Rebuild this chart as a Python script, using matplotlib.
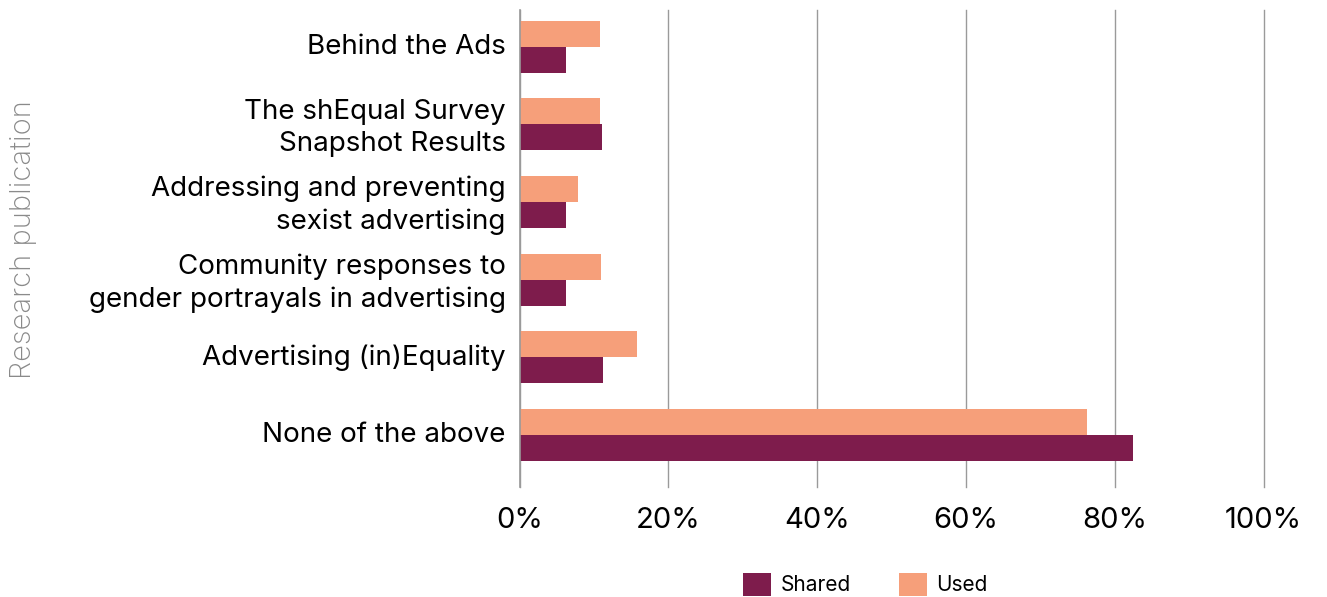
import numpy as np
import matplotlib
matplotlib.use("Agg")
import matplotlib.pyplot as plt

plt.rcParams['font.family'] = ['Inter', 'DejaVu Sans']

publications = [
    "Behind the Ads",
    "The shEqual Survey\nSnapshot Results",
    "Addressing and preventing\nsexist advertising",
    "Community responses to\ngender portrayals in advertising",
    "Advertising (in)Equality",
    "None of the above",
]
shared = [6.3, 11.1, 6.3, 6.3, 11.2, 82.4]
used = [10.8, 10.8, 7.9, 10.9, 15.8, 76.3]

shared_col = '#7E1C4C'
used_col = '#F69F7A'

fig = plt.figure(figsize=(13.27, 5.97), dpi=100)
ax = fig.add_axes([0.3915, 0.184, 0.5607, 0.799])

y = np.arange(len(publications))
h = 0.335
ax.barh(y - h / 2, used, height=h, color=used_col, label='Used', zorder=3)
ax.barh(y + h / 2, shared, height=h, color=shared_col, label='Shared', zorder=3)

ax.set_ylim(5.67, -0.47)
ax.set_xlim(0, 100)
ax.set_xticks([0, 20, 40, 60, 80, 100])
ax.set_xticklabels(['0%', '20%', '40%', '60%', '80%', '100%'], fontsize=21)
ax.set_yticks(y)
ax.set_yticklabels(publications, fontsize=20, linespacing=1.3)
ax.tick_params(axis='both', length=0)
ax.tick_params(axis='y', pad=10)
ax.tick_params(axis='x', pad=14)
for lbl in ax.get_yticklabels():
    lbl.set_y(lbl.get_position()[1])
    lbl.set_transform(lbl.get_transform() + matplotlib.transforms.ScaledTranslation(0, 2 / 72, fig.dpi_scale_trans))

ax.grid(axis='x', color='#9a9a9a', linewidth=1, zorder=0)
for gl in ax.get_xgridlines():
    gl.set_clip_on(False)
for side in ['top', 'right', 'bottom']:
    ax.spines[side].set_visible(False)
ax.spines['left'].set_color('#9a9a9a')
ax.spines['left'].set_linewidth(1.2)
ax.spines['left'].set_zorder(4)

fig.text(0.0175, 0.598, 'Research publication', rotation=90, ha='center', va='center',
         fontsize=21, color='#8a8a8a', fontweight='light')

handles, labels = ax.get_legend_handles_labels()
fig.legend(handles[::-1], labels[::-1], loc='center', bbox_to_anchor=(0.652, 0.021),
           ncol=2, frameon=False, fontsize=15, handlelength=1.35, handleheight=1.35,
           handletextpad=0.45, columnspacing=2.3)

fig.savefig('out.png', dpi=100)
